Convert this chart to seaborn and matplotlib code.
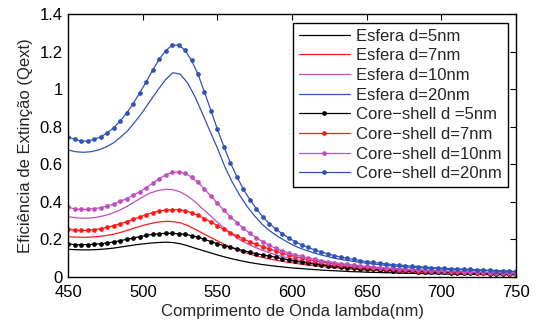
import numpy as np
import pandas as pd
import matplotlib
matplotlib.use("Agg")
import matplotlib.pyplot as plt
import seaborn as sns

# ---------------- data ----------------
wl_cs = np.linspace(450, 750, 70)      # core-shell sampling grid (nm)
wl_e = np.arange(450, 751, 5)          # sphere sampling grid (nm)

esfera_5 = [0.146,0.144,0.143,0.143,0.145,0.148,0.152,0.158,0.164,0.170,
            0.175,0.179,0.182,0.184,0.182,0.176,0.165,0.152,0.140,0.128,
            0.116,0.105,0.095,0.086,0.078,0.071,0.065,0.060,0.055,0.051,
            0.047,0.044,0.041,0.038,0.035,0.033,0.031,0.029,0.027,0.026,
            0.024,0.023,0.022,0.021,0.020,0.019,0.018,0.017,0.016,0.016,
            0.015,0.014,0.014,0.013,0.013,0.012,0.012,0.011,0.011,0.011,
            0.010]
esfera_7 = [0.213,0.211,0.210,0.211,0.214,0.219,0.226,0.236,0.248,0.261,
            0.273,0.283,0.291,0.295,0.294,0.287,0.273,0.253,0.232,0.211,
            0.191,0.171,0.153,0.138,0.125,0.113,0.103,0.094,0.087,0.080,
            0.074,0.068,0.063,0.058,0.054,0.050,0.047,0.044,0.041,0.038,
            0.036,0.034,0.032,0.030,0.029,0.027,0.026,0.025,0.024,0.023,
            0.022,0.021,0.020,0.019,0.018,0.018,0.017,0.016,0.016,0.015,
            0.015]
esfera_10 = [0.320,0.314,0.312,0.313,0.318,0.327,0.340,0.357,0.378,0.402,
             0.426,0.446,0.459,0.466,0.464,0.452,0.430,0.400,0.362,0.327,
             0.290,0.255,0.225,0.197,0.176,0.157,0.141,0.127,0.115,0.104,
             0.095,0.087,0.080,0.074,0.068,0.063,0.059,0.055,0.051,0.048,
             0.045,0.043,0.040,0.038,0.036,0.034,0.033,0.031,0.030,0.028,
             0.027,0.026,0.025,0.024,0.023,0.022,0.021,0.021,0.020,0.019,
             0.018]
esfera_20 = [0.675,0.666,0.663,0.666,0.675,0.690,0.712,0.743,0.780,0.828,
             0.880,0.938,0.995,1.048,1.087,1.080,1.032,0.958,0.868,0.775,
             0.685,0.585,0.503,0.433,0.373,0.323,0.279,0.245,0.217,0.193,
             0.171,0.153,0.139,0.126,0.115,0.105,0.096,0.089,0.083,0.077,
             0.072,0.067,0.063,0.059,0.056,0.053,0.050,0.048,0.045,0.043,
             0.041,0.039,0.037,0.036,0.034,0.033,0.032,0.030,0.029,0.027,
             0.025]

cs_5 = [0.174,0.171,0.171,0.171,0.173,0.176,0.180,0.185,0.192,0.199,
        0.206,0.213,0.220,0.226,0.229,0.231,0.231,0.229,0.226,0.219,
        0.210,0.199,0.187,0.176,0.165,0.157,0.148,0.139,0.130,0.123,
        0.116,0.110,0.103,0.096,0.089,0.083,0.077,0.072,0.067,0.063,
        0.059,0.055,0.052,0.049,0.046,0.043,0.041,0.039,0.037,0.035,
        0.033,0.031,0.030,0.028,0.027,0.026,0.025,0.024,0.023,0.022,
        0.021,0.020,0.019,0.018,0.018,0.017,0.016,0.016,0.015,0.015]
cs_7 = [0.254,0.247,0.247,0.247,0.251,0.256,0.263,0.272,0.283,0.293,
        0.306,0.318,0.331,0.341,0.350,0.355,0.357,0.357,0.352,0.341,
        0.327,0.309,0.292,0.272,0.252,0.235,0.217,0.201,0.185,0.172,
        0.160,0.148,0.137,0.126,0.116,0.107,0.099,0.091,0.085,0.079,
        0.073,0.068,0.064,0.060,0.056,0.053,0.050,0.047,0.045,0.042,
        0.040,0.038,0.036,0.035,0.033,0.032,0.030,0.029,0.028,0.026,
        0.025,0.024,0.023,0.022,0.021,0.020,0.019,0.018,0.017,0.017]
cs_10 = [0.371,0.361,0.359,0.359,0.363,0.368,0.377,0.387,0.402,0.416,
         0.434,0.453,0.474,0.498,0.522,0.542,0.556,0.558,0.551,0.531,
         0.503,0.467,0.430,0.391,0.354,0.320,0.288,0.258,0.231,0.206,
         0.187,0.167,0.151,0.138,0.127,0.117,0.108,0.100,0.093,0.086,
         0.080,0.075,0.070,0.066,0.062,0.058,0.055,0.052,0.049,0.047,
         0.045,0.043,0.041,0.039,0.037,0.035,0.033,0.032,0.030,0.029,
         0.028,0.027,0.025,0.024,0.023,0.022,0.021,0.020,0.019,0.018]
cs_20 = [0.744,0.732,0.723,0.723,0.732,0.746,0.766,0.794,0.830,0.872,
         0.922,0.979,1.038,1.100,1.158,1.204,1.233,1.235,1.208,1.153,
         1.079,0.984,0.885,0.785,0.693,0.607,0.533,0.466,0.411,0.362,
         0.318,0.283,0.254,0.229,0.206,0.186,0.170,0.156,0.143,0.132,
         0.122,0.113,0.105,0.098,0.092,0.086,0.081,0.076,0.072,0.068,
         0.065,0.062,0.059,0.056,0.054,0.051,0.049,0.047,0.045,0.043,
         0.042,0.040,0.039,0.037,0.036,0.034,0.033,0.031,0.029,0.028]

esfera_labels = ["Esfera d=5nm", "Esfera d=7nm", "Esfera d=10nm", "Esfera d=20nm"]
cs_labels = ["Core\u2212shell d =5nm", "Core\u2212shell d=7nm",
             "Core\u2212shell d=10nm", "Core\u2212shell d=20nm"]
colors = ["#000000", "#ff1a1a", "#bf4fbf", "#3054b4"]

x_ticks = [450, 500, 550, 600, 650, 700, 750]
y_ticks = [0, 0.2, 0.4, 0.6, 0.8, 1.0, 1.2, 1.4]
y_ticklabels = ["0", "0.2", "0.4", "0.6", "0.8", "1", "1.2", "1.4"]

# ---------------- style ----------------
sns.set_theme(style="white")
plt.rcParams["font.family"] = ["Liberation Sans", "DejaVu Sans"]
plt.rcParams["axes.unicode_minus"] = True

fig = plt.figure(figsize=(5.44, 3.25), dpi=100)
ax = fig.add_axes([0.1256, 0.1486, 0.8224, 0.8083])

esf = [esfera_5, esfera_7, esfera_10, esfera_20]
css = [cs_5, cs_7, cs_10, cs_20]

for vals, lab, c in zip(esf, esfera_labels, colors):
    df = pd.DataFrame({"wl": wl_e, "q": vals})
    sns.lineplot(data=df, x="wl", y="q", ax=ax, color=c, linewidth=0.9,
                 label=lab, estimator=None, sort=False)

for vals, lab, c in zip(css, cs_labels, colors):
    df = pd.DataFrame({"wl": wl_cs, "q": vals})
    sns.lineplot(data=df, x="wl", y="q", ax=ax, color=c, linewidth=0.9,
                 marker="o", markersize=3.4, markeredgewidth=0,
                 label=lab, estimator=None, sort=False)

ax.set_xlim(450, 750)
ax.set_ylim(0, 1.4)
ax.set_xticks(x_ticks)
ax.set_yticks(y_ticks)
ax.set_yticklabels(y_ticklabels)
ax.tick_params(axis="both", which="both", direction="in", length=4,
               width=0.8, top=True, right=True, labelsize=12,
               colors="black")
ax.tick_params(axis="x", pad=6)
ax.tick_params(axis="y", pad=4)
for s in ax.spines.values():
    s.set_color("black")
    s.set_linewidth(1.0)

ax.set_xlabel("Comprimento de Onda lambda(nm)", fontsize=12, labelpad=3)
ax.set_ylabel("Efici\u00eancia de Extin\u00e7\u00e3o (Qext)", fontsize=12, labelpad=5)

leg = ax.legend(loc="upper right", bbox_to_anchor=(0.982, 0.967),
                borderaxespad=0, fontsize=12, frameon=True, fancybox=False,
                framealpha=1, edgecolor="black", handlelength=3.1,
                handletextpad=0.35, labelspacing=0.28, borderpad=0.35)
leg.get_frame().set_linewidth(1.0)

fig.savefig("out.png", dpi=100)
